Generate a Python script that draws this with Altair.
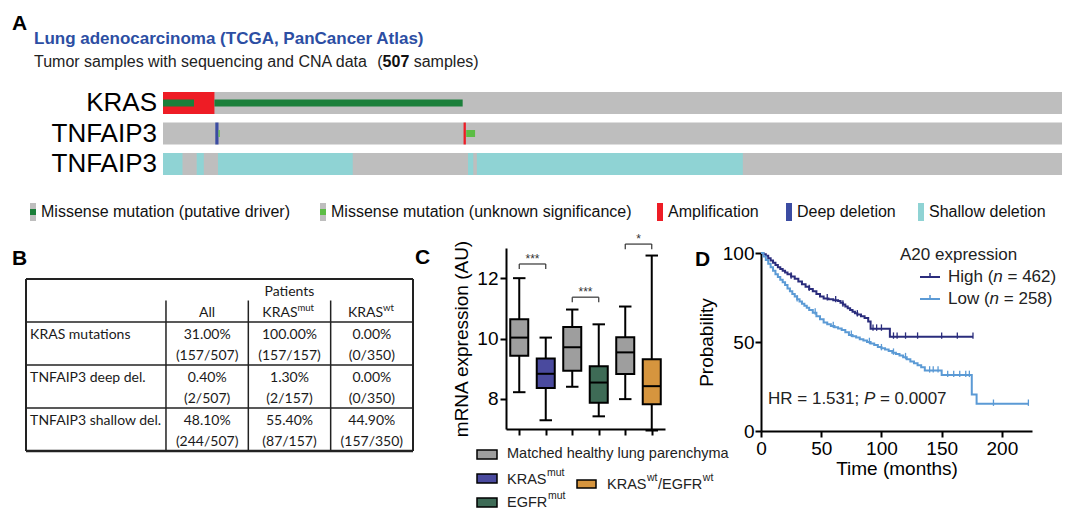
import altair as alt
import pandas as pd

FONT = "Liberation Sans"
TFONT = "Lato"
ONE = alt.Data(values=[{"k": 0}])

# ---------------- Panel A data (oncoprint) ----------------
n_samples = 507
track_labels = ["KRAS", "TNFAIP3", "TNFAIP3"]

amp_track = [0, 1]
amp_start = [0, 169.5]
amp_end = [29, 170.8]

deep_track = [1]
deep_start = [29.5]
deep_end = [31.3]

shallow_track = [2, 2, 2, 2, 2]
shallow_start = [0, 19, 31, 172, 177]
shallow_end = [11, 23, 107, 175, 327]

driver_track = [0, 0]
driver_start = [0, 29]
driver_end = [17.5, 169]

unknown_track = [1, 1]
unknown_start = [31.3, 171]
unknown_end = [32.0, 176]

alt_types = ["Missense mutation (putative driver)", "Missense mutation (unknown significance)",
             "Amplification", "Deep deletion", "Shallow deletion"]
alt_colors = ["#1b7f3a", "#5cbd45", "#ee1c25", "#3b4ca2", "#8fd3d4"]
TRACK_GREY = "#bebebe"

# ---------------- Panel B data (table) ----------------
row_labels = ["KRAS mutations", "TNFAIP3 deep del.", "TNFAIP3 shallow del."]
pct_all = ["31.00%", "0.40%", "48.10%"]
frac_all = ["(157/507)", "(2/507)", "(244/507)"]
pct_mut = ["100.00%", "1.30%", "55.40%"]
frac_mut = ["(157/157)", "(2/157)", "(87/157)"]
pct_wt = ["0.00%", "0.00%", "44.90%"]
frac_wt = ["(0/350)", "(0/350)", "(157/350)"]

# ---------------- Panel C data (box plots) ----------------
box_pos = [1, 2, 3, 4, 5, 6]
box_group = ["Matched healthy lung parenchyma", "KRASmut", "Matched healthy lung parenchyma",
             "EGFRmut", "Matched healthy lung parenchyma", "KRASwt/EGFRwt"]
box_lo = [8.22, 7.29, 8.40, 7.42, 7.99, 6.95]
box_q1 = [9.43, 8.36, 8.93, 7.87, 8.82, 7.82]
box_med = [10.03, 8.83, 9.71, 8.54, 9.54, 8.42]
box_q3 = [10.64, 9.34, 10.38, 9.08, 10.04, 9.31]
box_hi = [12.0, 10.03, 10.96, 10.47, 11.06, 12.75]
group_names = ["Matched healthy lung parenchyma", "KRASmut", "EGFRmut", "KRASwt/EGFRwt"]
group_colors = ["#9e9e9e", "#4a4a9e", "#3e6b56", "#d6953e"]

br_left = [1, 3, 5]
br_right = [2, 4, 6]
br_y = [12.47, 11.37, 13.13]
br_label = ["***", "***", "*"]

# ---------------- Panel D data (Kaplan-Meier) ----------------
high_t = [0, 2, 4, 6, 8, 10, 12, 14, 16, 18, 20, 22, 25, 28, 31, 34, 37, 40, 43, 46, 49, 52, 56,
          60, 64, 66, 68, 70, 72, 74, 76, 78, 80, 83, 86, 89, 91, 107, 176]
high_p = [100, 99.3, 98.5, 97, 95.8, 94.5, 93.3, 92, 91, 90, 89, 88, 86.8, 85.5, 84, 82.5, 81,
          79.8, 78.5, 77, 75.5, 74.5, 74, 73.5, 73, 72, 71, 70, 69, 68, 67, 66.2, 65.5, 64.5,
          63.5, 61.5, 57.5, 53, 53]
low_t = [0, 2, 4, 6, 8, 10, 12, 14, 16, 18, 20, 22, 24, 26, 28, 30, 32, 34, 36, 38, 40, 43, 46,
         49, 52, 55, 58, 61, 64, 67, 70, 73, 76, 79, 82, 85, 88, 91, 94, 97, 100, 103, 106, 109,
         112, 115, 118, 121, 124, 127, 130, 133, 136, 150, 175, 179, 222]
low_p = [100, 98, 96, 94, 92, 90, 88, 86.5, 85, 83.5, 82, 80, 78.5, 77, 75.5, 74, 72.8, 71.5,
         70.3, 69.2, 68, 66.5, 64.5, 62.8, 61, 60, 59, 58.3, 57.6, 56.8, 55.5, 54, 53.2, 52.5,
         51.5, 50.8, 50, 49.2, 48.3, 47.2, 46.5, 45.8, 45, 44, 43.2, 42.4, 41.5, 40.3, 39, 38,
         37, 35.8, 34, 31.5, 20.5, 15.3, 15.3]
high_cens_t = [25, 40, 55, 62, 68, 80, 93, 96, 100, 110, 113, 120, 130, 150, 163, 176]
high_cens_p = [86.8, 79.8, 74.5, 73.5, 71, 65.5, 57.5, 57.5, 57.5, 53, 53, 53, 53, 53, 53, 53]
low_cens_t = [30, 45, 60, 75, 90, 100, 110, 120, 140, 143, 147, 155, 160, 165, 170, 173, 193, 222]
low_cens_p = [74, 66.5, 59, 54, 50, 46.5, 44, 41.5, 34, 34, 34, 31.5, 31.5, 31.5, 31.5, 31.5,
              15.3, 15.3]
km_groups = ["High", "Low"]
km_colors = ["#2a2c7c", "#5b9ad5"]


# ---------------- helpers ----------------
def txt(s, x, y, size=14, weight="normal", color="#111111", align="left",
        baseline="middle", style="normal", font=FONT):
    return alt.Chart(ONE).mark_text(
        align=align, baseline=baseline, fontSize=size, fontWeight=weight,
        color=color, fontStyle=style, font=font
    ).encode(x=alt.value(x), y=alt.value(y), text=alt.value(s))


def rbox(x0, x1, y0, y1, fill, stroke=None, sw=0):
    kw = dict(fill=fill)
    if stroke:
        kw.update(stroke=stroke, strokeWidth=sw)
    else:
        kw.update(strokeWidth=0)
    return alt.Chart(ONE).mark_rect(**kw).encode(
        x=alt.value(x0), x2=alt.value(x1), y=alt.value(y0), y2=alt.value(y1))


def hline(x0, x1, y, color, sw=2):
    return alt.Chart(ONE).mark_rule(color=color, strokeWidth=sw).encode(
        x=alt.value(x0), x2=alt.value(x1), y=alt.value(y))


def vline(x, y0, y1, color, sw=2):
    return alt.Chart(ONE).mark_rule(color=color, strokeWidth=sw).encode(
        x=alt.value(x), y=alt.value(y0), y2=alt.value(y1))


# ================= Panel A =================
xA = alt.Scale(domain=[0, n_samples], range=[155, 1054], nice=False, zero=False)
yA = alt.Scale(domain=[0, 2], range=[95, 156], nice=False, zero=False)
colA = alt.Color("type:N", scale=alt.Scale(domain=alt_types, range=alt_colors), legend=None)

bg_df = pd.DataFrame({"track": [0, 1, 2], "start": [0, 0, 0], "end": [n_samples] * 3})
cna_df = pd.DataFrame({
    "track": amp_track + deep_track + shallow_track,
    "start": amp_start + deep_start + shallow_start,
    "end": amp_end + deep_end + shallow_end,
    "type": ["Amplification"] * len(amp_track) + ["Deep deletion"] * len(deep_track)
            + ["Shallow deletion"] * len(shallow_track),
})
mut_df = pd.DataFrame({
    "track": driver_track + unknown_track,
    "start": driver_start + unknown_start,
    "end": driver_end + unknown_end,
    "type": [alt_types[0]] * len(driver_track) + [alt_types[1]] * len(unknown_track),
})


def track_rects(df, half, color=None):
    ch = alt.Chart(df).transform_calculate(
        y0=f"datum.track - {half}", y1=f"datum.track + {half}")
    enc = dict(
        x=alt.X("start:Q", scale=xA, axis=None), x2="end:Q",
        y=alt.Y("y0:Q", scale=yA, axis=None), y2="y1:Q")
    if color is None:
        return ch.mark_rect(strokeWidth=0).encode(color=colA, **enc)
    return ch.mark_rect(color=color, strokeWidth=0).encode(**enc)


a_layers = [
    track_rects(bg_df, 0.36, TRACK_GREY),
    track_rects(cna_df, 0.36),
    track_rects(mut_df, 0.115),
    txt("A", 4, 22, size=21, weight="bold", color="black", baseline="alphabetic"),
    txt("Lung adenocarcinoma (TCGA, PanCancer Atlas)", 26, 36, size=17, weight="bold",
        color="#2c4ea3", baseline="alphabetic"),
    txt("Tumor samples with sequencing and CNA data", 26, 59, size=16, color="#222222",
        baseline="alphabetic"),
    txt("(", 369.3, 59, size=16, color="#222222", baseline="alphabetic"),
    txt("507", 374.6, 59, size=16, weight="bold", color="#111111", baseline="alphabetic"),
    txt("samples)", 405.7, 59, size=16, color="#222222", baseline="alphabetic"),
]
for i, lab in enumerate(track_labels):
    a_layers.append(txt(lab, 149, 95 + 30.5 * i, size=26, color="black", align="right"))

leg_x = [22, 312, 649, 778, 910]
for i, name in enumerate(alt_types):
    gx = leg_x[i]
    if i < 2:
        a_layers.append(rbox(gx, gx + 6, 195, 213, TRACK_GREY))
        a_layers.append(rbox(gx, gx + 6, 201, 207, alt_colors[i]))
    else:
        a_layers.append(rbox(gx, gx + 6, 195, 213, alt_colors[i]))
    a_layers.append(txt(name, gx + 11, 204, size=16, color="#111111"))

panelA = alt.layer(*a_layers).properties(width=1064, height=222)

# ================= Panel B =================
col_edges = [0, 1.7, 2.7, 3.7, 4.7]
xB = alt.Scale(domain=[0, 4.7], range=[18, 405], nice=False, zero=False)
yB = alt.Scale(domain=[-1, 3], range=[39, 211], nice=False, zero=False)

lines_df = pd.DataFrame({
    "x0": [0, 0, 0, 0, 0, 0, 4.7, 1.7, 2.7, 3.7],
    "x1": [4.7, 4.7, 4.7, 4.7, 4.7, 0, 4.7, 1.7, 2.7, 3.7],
    "y0": [-1, 0, 1, 2, 3, -1, -1, -0.5, -0.5, -0.5],
    "y1": [-1, 0, 1, 2, 3, 3, 3, 3, 3, 3],
    "w": [2, 1.5, 1.5, 1.5, 2.6, 2, 2, 1.5, 1.5, 1.5],
})

cols_pct = [pct_all, pct_mut, pct_wt]
cols_frac = [frac_all, frac_mut, frac_wt]
cell_rows = []
for c in range(3):
    xc = (col_edges[c + 1] + col_edges[c + 2]) / 2
    for r in range(3):
        cell_rows.append({"text": cols_pct[c][r], "xc": xc, "yc": r + 0.30})
        cell_rows.append({"text": cols_frac[c][r], "xc": xc, "yc": r + 0.79})
cells_df = pd.DataFrame(cell_rows)
labels_df = pd.DataFrame({"text": row_labels, "xc": [0.05] * 3, "yc": [r + 0.30 for r in range(3)]})

head_df = pd.DataFrame({
    "text": ["Patients", "All"],
    "xc": [(col_edges[1] + col_edges[4]) / 2, (col_edges[1] + col_edges[2]) / 2],
    "yc": [-0.70, -0.21],
})
kras_head_df = pd.DataFrame({"text": ["KRAS", "KRAS"], "xc": [3.297, 4.337], "yc": [-0.21, -0.21]})
sup_head_df = pd.DataFrame({"text": ["mut", "wt"], "xc": [3.297, 4.337], "yc": [-0.33, -0.33]})


def table_text(df, align, size=14):
    return alt.Chart(df).mark_text(
        align=align, baseline="middle", fontSize=size, font=TFONT, color="#1a1a1a"
    ).encode(x=alt.X("xc:Q", scale=xB, axis=None), y=alt.Y("yc:Q", scale=yB, axis=None),
             text="text:N")


b_layers = [
    alt.Chart(lines_df).mark_rule(color="#222222").encode(
        x=alt.X("x0:Q", scale=xB, axis=None), x2="x1:Q",
        y=alt.Y("y0:Q", scale=yB, axis=None), y2="y1:Q",
        strokeWidth=alt.StrokeWidth("w:Q", scale=None, legend=None)),
    table_text(cells_df, "center"),
    table_text(labels_df, "left"),
    table_text(head_df, "center"),
    table_text(kras_head_df, "right"),
    table_text(sup_head_df, "left", size=9.5),
    txt("B", 4, 25, size=21, weight="bold", color="black", baseline="alphabetic"),
]
panelB = alt.layer(*b_layers).properties(width=402, height=220)

# ================= Panel C =================
xC = alt.Scale(domain=[0.5, 6.5], nice=False, zero=False)
yC = alt.Scale(domain=[7, 13], range=[189, 8], nice=False, zero=False)
fillC = alt.Fill("group:N", scale=alt.Scale(domain=group_names, range=group_colors), legend=None)
axCx = alt.Axis(values=box_pos, labels=False, title=None, grid=False)
axCy = alt.Axis(values=[8, 10, 12], title="mRNA expression (AU)", titlePadding=5,
                labelPadding=2, grid=False)


def XC(f):
    return alt.X(f, scale=xC, axis=axCx, title=None)


def YC(f):
    return alt.Y(f, scale=yC, axis=axCy, title="mRNA expression (AU)")


box_df = pd.DataFrame({"pos": box_pos, "group": box_group, "lo": box_lo, "q1": box_q1,
                       "med": box_med, "q3": box_q3, "hi": box_hi})
br_df = pd.DataFrame({"left": br_left, "right": br_right, "y": br_y, "label": br_label})

c_base = alt.Chart(box_df).transform_calculate(
    a="datum.pos - 0.34", b="datum.pos + 0.34",
    ca="datum.pos - 0.235", cb="datum.pos + 0.235")

c_layers = [
    c_base.mark_rule(color="black", strokeWidth=2).encode(
        x=XC("pos:Q"), y=YC("lo:Q"), y2="hi:Q"),
    c_base.mark_rule(color="black", strokeWidth=2).encode(
        x=XC("ca:Q"), x2="cb:Q", y=YC("lo:Q")),
    c_base.mark_rule(color="black", strokeWidth=2).encode(
        x=XC("ca:Q"), x2="cb:Q", y=YC("hi:Q")),
    c_base.mark_rect(stroke="black", strokeWidth=2).encode(
        x=XC("a:Q"), x2="b:Q", y=YC("q1:Q"), y2="q3:Q", fill=fillC),
    c_base.mark_rule(color="black", strokeWidth=2).encode(
        x=XC("a:Q"), x2="b:Q", y=YC("med:Q")),
]
br_base = alt.Chart(br_df).transform_calculate(
    yd="datum.y - 0.17", xm="(datum.left + datum.right) / 2", yt="datum.y + 0.03")
c_layers += [
    br_base.mark_rule(color="#333333", strokeWidth=1.2).encode(
        x=XC("left:Q"), x2="right:Q", y=YC("y:Q")),
    br_base.mark_rule(color="#333333", strokeWidth=1.2).encode(
        x=XC("left:Q"), y=YC("y:Q"), y2="yd:Q"),
    br_base.mark_rule(color="#333333", strokeWidth=1.2).encode(
        x=XC("right:Q"), y=YC("y:Q"), y2="yd:Q"),
    br_base.mark_text(baseline="alphabetic", fontSize=12, color="#333333").encode(
        x=XC("xm:Q"), y=YC("yt:Q"), text="label:N"),
    txt("C", -91, 24, size=21, weight="bold", color="black", baseline="alphabetic"),
]
# legend of panel C
c_layers += [
    rbox(-29, -9, 210, 219, group_colors[0], "black", 1.5),
    txt("Matched healthy lung parenchyma", 1, 214, size=14.5, color="#222222"),
    rbox(-29, -9, 234, 243, group_colors[1], "black", 1.5),
    txt("KRAS", 1, 240, size=14.5, color="#222222"),
    txt("mut", 41, 233, size=10.5, color="#222222"),
    rbox(71, 90, 240, 248, group_colors[3], "black", 1.5),
    txt("KRAS", 101, 245, size=14.5, color="#222222"),
    txt("wt", 141, 238, size=10.5, color="#222222"),
    txt("/EGFR", 152, 245, size=14.5, color="#222222"),
    txt("wt", 196.8, 238, size=10.5, color="#222222"),
    rbox(-29, -9, 258, 267, group_colors[2], "black", 1.5),
    txt("EGFR", 1, 263, size=14.5, color="#222222"),
    txt("mut", 42, 256, size=10.5, color="#222222"),
]
panelC = alt.layer(*c_layers).properties(width=159, height=189)

# ================= Panel D =================
xD = alt.Scale(domain=[0, 225], nice=False, zero=False)
yD = alt.Scale(domain=[0, 100], range=[191, 13], nice=False, zero=False)
colD = alt.Color("group:N", scale=alt.Scale(domain=km_groups, range=km_colors), legend=None)
axDx = alt.Axis(values=[0, 50, 100, 150, 200], title="Time (months)", titlePadding=1,
                labelPadding=2, labelFlush=False, grid=False)
axDy = alt.Axis(values=[0, 50, 100], title="Probability", titlePadding=6, labelPadding=1,
                labelFlush=False, grid=False)


def XD(f):
    return alt.X(f, scale=xD, axis=axDx, title="Time (months)")


def YD(f):
    return alt.Y(f, scale=yD, axis=axDy, title="Probability")


km_df = pd.DataFrame({
    "t": high_t + low_t, "p": high_p + low_p,
    "group": ["High"] * len(high_t) + ["Low"] * len(low_t)})
cens_df = pd.DataFrame({
    "t": high_cens_t + low_cens_t, "p": high_cens_p + low_cens_p,
    "group": ["High"] * len(high_cens_t) + ["Low"] * len(low_cens_t)})

d_layers = [
    alt.Chart(km_df).mark_line(interpolate="step-after", strokeWidth=2).encode(
        x=XD("t:Q"), y=YD("p:Q"), color=colD),
    alt.Chart(cens_df).transform_calculate(y0="datum.p - 1.2", y1="datum.p + 2.4").mark_rule(
        strokeWidth=1.3).encode(x=XD("t:Q"), y=YD("y0:Q"), y2="y1:Q", color=colD),
    txt("D", -66, 26, size=21, weight="bold", color="black", baseline="alphabetic"),
    txt("A20 expression", 139, 15, size=17, color="#222222"),
    hline(159, 179, 37, km_colors[0], 2),
    vline(169, 33, 37, km_colors[0], 1.5),
    txt("High (", 187, 37, size=17, color="#222222"),
    txt("n", 232.3, 37, size=17, color="#222222", style="italic"),
    txt("= 462)", 246.5, 37, size=17, color="#222222"),
    hline(159, 179, 59, km_colors[1], 2),
    vline(169, 55, 59, km_colors[1], 1.5),
    txt("Low (", 187, 59, size=17, color="#222222"),
    txt("n", 228.6, 59, size=17, color="#222222", style="italic"),
    txt("= 258)", 242.8, 59, size=17, color="#222222"),
    txt("HR = 1.531;", 7, 159, size=17, color="#222222"),
    txt("P", 102.9, 159, size=17, color="#222222", style="italic"),
    txt("= 0.0007", 118.9, 159, size=17, color="#222222"),
]
panelD = alt.layer(*d_layers).properties(width=271, height=191)

lower = alt.hconcat(panelB, panelC, panelD, spacing=96, bounds="flush").resolve_scale(
    color="independent", fill="independent")
chart = alt.vconcat(panelA, lower, spacing=10, bounds="flush").resolve_scale(
    color="independent", fill="independent"
).properties(
    padding=0
).configure_view(strokeWidth=0).configure_axis(
    domainColor="black", domainWidth=2, tickColor="black", tickWidth=2, tickSize=6,
    labelFontSize=19, labelColor="black", labelFont=FONT, titleFont=FONT,
    titleFontSize=19, titleFontWeight="normal", titleColor="black", grid=False
).configure_text(font=FONT)

chart.save("out.html", embed_options={"renderer": "svg", "actions": False})
